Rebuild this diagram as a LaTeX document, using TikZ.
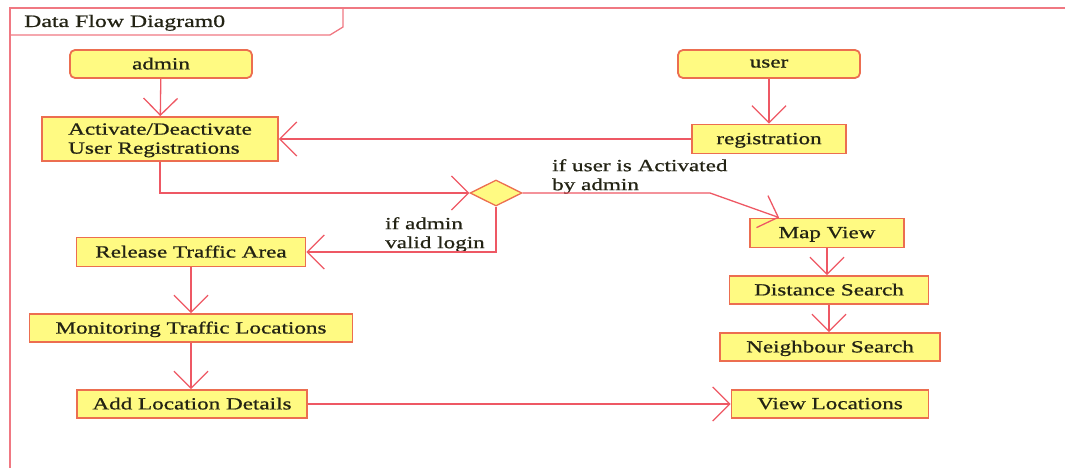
\documentclass[tikz,border=0pt]{standalone}
\usepackage{fontspec}
\setmainfont{Liberation Serif}[FakeStretch=1.36,FakeBold=0.8]
\usetikzlibrary{arrows.meta,shapes.geometric}
\definecolor{boxfill}{RGB}{255,250,130}
\definecolor{boxline}{RGB}{236,110,80}
\definecolor{flowline}{RGB}{238,88,100}
\definecolor{frameline}{RGB}{240,120,130}
\definecolor{txt}{RGB}{35,35,20}
\tikzset{
  proc/.style={draw=boxline, fill=boxfill, line width=1.8pt, inner sep=0pt, text=txt,
    font=\fontsize{17}{19}\selectfont, align=center, text depth=1pt},
  actor/.style={proc, rounded corners=5pt},
  flow/.style={draw=flowline, line width=1.3pt, -{Straight Barb[length=17pt,width=34pt,line width=1.3pt]}},
  lbl/.style={inner sep=0pt, text=txt, font=\fontsize{17}{19}\selectfont, align=left},
  frame/.style={draw=frameline, line width=1.3pt},
  dec/.style={diamond, draw=boxline, fill=boxfill, line width=1.3pt, inner sep=0pt,
    minimum width=52pt, minimum height=26pt}
}
\begin{document}
\begin{tikzpicture}[x=1pt,y=-1pt]
\useasboundingbox (0,0) rectangle (1065,468);
% frame
\draw[frame] (10,468) -- (10,8) -- (1065,8);
\draw[frame] (10,35) -- (330,35) -- (343,27) -- (343,8);
\node[lbl, anchor=base west, font=\fontsize{17.5}{19}\selectfont] (title) at (24,27) {Data Flow Diagram0};
% nodes
\node[actor, minimum width=182pt, minimum height=28pt] (admin) at (161,64) {admin};
\node[actor, minimum width=182pt, minimum height=28pt] (user) at (769,64) {user};
\node[proc, minimum width=236pt, minimum height=44pt, align=left] (act) at (160,139) {Activate/Deactivate\\User Registrations};
\node[proc, minimum width=154pt, minimum height=29pt] (reg) at (769,139) {registration};
\node[dec] (dia) at (496,193) {};
\node[proc, minimum width=229pt, minimum height=29pt] (rel) at (191,252) {Release Traffic Area};
\node[proc, minimum width=323pt, minimum height=28pt] (mon) at (191,328) {Monitoring Traffic Locations};
\node[proc, minimum width=230pt, minimum height=28pt] (add) at (192,404) {Add Location Details};
\node[proc, minimum width=154pt, minimum height=29pt] (mv) at (827,233) {Map View};
\node[proc, minimum width=199pt, minimum height=28pt] (ds) at (829,290) {Distance Search};
\node[proc, minimum width=220pt, minimum height=28pt] (ns) at (830,347) {Neighbour Search};
\node[proc, minimum width=197pt, minimum height=28pt] (vl) at (830,404) {View Locations};
% labels
\node[lbl, anchor=north west] (l1) at (552,159) {if user is Activated\\by admin};
\node[lbl, anchor=north west] (l2) at (385,217) {if admin\\valid login};
% connectors
\draw[flow] (admin) -- (act);
\draw[flow] (user) -- (reg);
\draw[flow] (reg) -- (act);
\draw[flow] (act.south) |- (dia.west);
\draw[flow] (dia.south) |- (rel.east);
\coordinate (bend) at (710,193);
\draw[flow] (dia.east) -- (bend) -- ([xshift=30pt]mv.north west);
\draw[flow] (mv) -- (mv |- ds.north);
\draw[flow] (ds) -- (ds |- ns.north);
\draw[flow] (rel) -- (mon);
\draw[flow] (mon) -- (mon |- add.north);
\draw[flow] (add) -- (vl);
\end{tikzpicture}
\end{document}
